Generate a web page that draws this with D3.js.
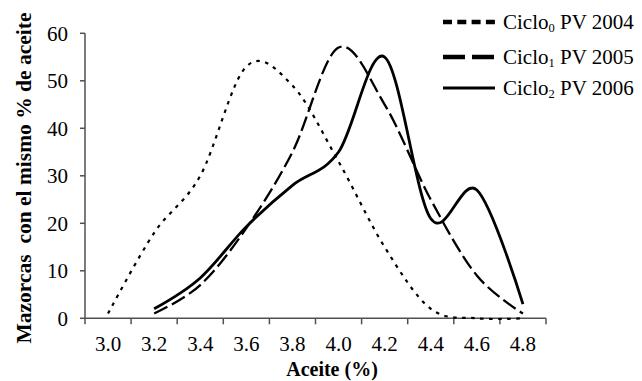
<!DOCTYPE html>
<html>
<head>
<meta charset="utf-8">
<script src="https://cdn.jsdelivr.net/npm/d3@7"></script>
<style>
  body { margin: 0; background: #fff; }
  svg { display: block; }
  text { font-family: "Liberation Serif", "Times New Roman", serif; fill: #000; }
</style>
</head>
<body>
<svg id="chart" width="642" height="381"></svg>
<script>
// categories on the x axis (% aceite)
const categories = ["3.0", "3.2", "3.4", "3.6", "3.8", "4.0", "4.2", "4.4", "4.6", "4.8"];
// mazorcas per category, one array per cycle
const ciclo0 = [1, 18, 30, 53, 49, 33, 15, 2, 0, 0];
const ciclo1 = [null, 1, 7, 19, 35, 57, 45, 25, 9, 1];
const ciclo2 = [null, 2, 8.5, 19.3, 28, 35, 55, 21, 27, 3];
const yTicks = [0, 10, 20, 30, 40, 50, 60];
const legendSubs = ["0", "1", "2"];
const legendYears = ["PV 2004", "PV 2005", "PV 2006"];

const svg = d3.select('#chart');
const plotLeft = 85, plotRight = 546, plotTop = 33.3, plotBottom = 318.3;

const x = d3.scaleBand().domain(categories).range([plotLeft, plotRight]);
const y = d3.scaleLinear().domain([0, 60]).range([plotBottom, plotTop]);
const cx = c => x(c) + x.bandwidth() / 2;

// axes
const axisColor = '#505050';
svg.append('line')
  .attr('x1', plotLeft).attr('x2', plotLeft)
  .attr('y1', y(60)).attr('y2', y(0))
  .attr('stroke', axisColor).attr('stroke-width', 1.5);
svg.append('line')
  .attr('x1', plotLeft).attr('x2', plotRight)
  .attr('y1', y(0)).attr('y2', y(0))
  .attr('stroke', axisColor).attr('stroke-width', 1.5);

// y ticks + labels
svg.selectAll('line.ytick')
  .data(yTicks)
  .enter()
  .append('line')
  .attr('class', 'ytick')
  .attr('x1', plotLeft - 5).attr('x2', plotLeft)
  .attr('y1', d => y(d)).attr('y2', d => y(d))
  .attr('stroke', axisColor).attr('stroke-width', 1.5);
svg.selectAll('text.ylab')
  .data(yTicks)
  .enter()
  .append('text')
  .attr('class', 'ylab')
  .attr('x', 68)
  .attr('y', d => y(d))
  .attr('dy', '0.35em')
  .attr('text-anchor', 'end')
  .attr('font-size', '21px')
  .text(d => d);

// x ticks sit between categories
const edges = categories.map(c => x(c)).concat([plotRight]);
svg.selectAll('line.xtick')
  .data(edges)
  .enter()
  .append('line')
  .attr('class', 'xtick')
  .attr('x1', d => d).attr('x2', d => d)
  .attr('y1', plotBottom).attr('y2', plotBottom + 6)
  .attr('stroke', axisColor).attr('stroke-width', 1.5);
svg.selectAll('text.xlab')
  .data(categories)
  .enter()
  .append('text')
  .attr('class', 'xlab')
  .attr('x', d => cx(d))
  .attr('y', 351)
  .attr('text-anchor', 'middle')
  .attr('font-size', '21px')
  .text(d => d);

// axis titles
svg.append('text')
  .attr('x', 332).attr('y', 376)
  .attr('text-anchor', 'middle')
  .attr('font-size', '20px')
  .attr('font-weight', 'bold')
  .text('Aceite (%)');
svg.append('text')
  .attr('transform', 'translate(31,178) rotate(-90)')
  .attr('text-anchor', 'middle')
  .attr('font-size', '21.5px')
  .attr('font-weight', 'bold')
  .attr('xml:space', 'preserve')
  .text('Mazorcas  con el mismo % de aceite');

// series
const line = d3.line()
  .defined(d => d != null)
  .x((d, i) => cx(categories[i]))
  .y(d => y(d))
  .curve(d3.curveCardinal.tension(0));

const styles = [
  { data: ciclo0, width: 2.2, dash: '3.5,5.5', lw: 4.5, ldash: '9,5.3' },
  { data: ciclo1, width: 2.3, dash: '15,5', lw: 4.5, ldash: '22,7' },
  { data: ciclo2, width: 2.8, dash: null, lw: 3, ldash: null }
];

styles.forEach(s => {
  svg.append('path')
    .datum(s.data)
    .attr('d', line)
    .attr('fill', 'none')
    .attr('stroke', '#000')
    .attr('stroke-width', s.width)
    .attr('stroke-dasharray', s.dash);
});

// legend
const legendY = [22, 57, 88];
styles.forEach((s, i) => {
  svg.append('line')
    .attr('x1', 443).attr('x2', 495)
    .attr('y1', legendY[i]).attr('y2', legendY[i])
    .attr('stroke', '#000')
    .attr('stroke-width', s.lw)
    .attr('stroke-dasharray', s.ldash);
  const t = svg.append('text')
    .attr('x', 503)
    .attr('y', legendY[i])
    .attr('dy', '0.35em')
    .attr('font-size', '21px');
  t.append('tspan').text('Ciclo');
  t.append('tspan').attr('font-size', '12.5px').attr('dy', 3).text(legendSubs[i]);
  t.append('tspan').attr('dy', -3).text(' ' + legendYears[i]);
});
</script>
</body>
</html>
